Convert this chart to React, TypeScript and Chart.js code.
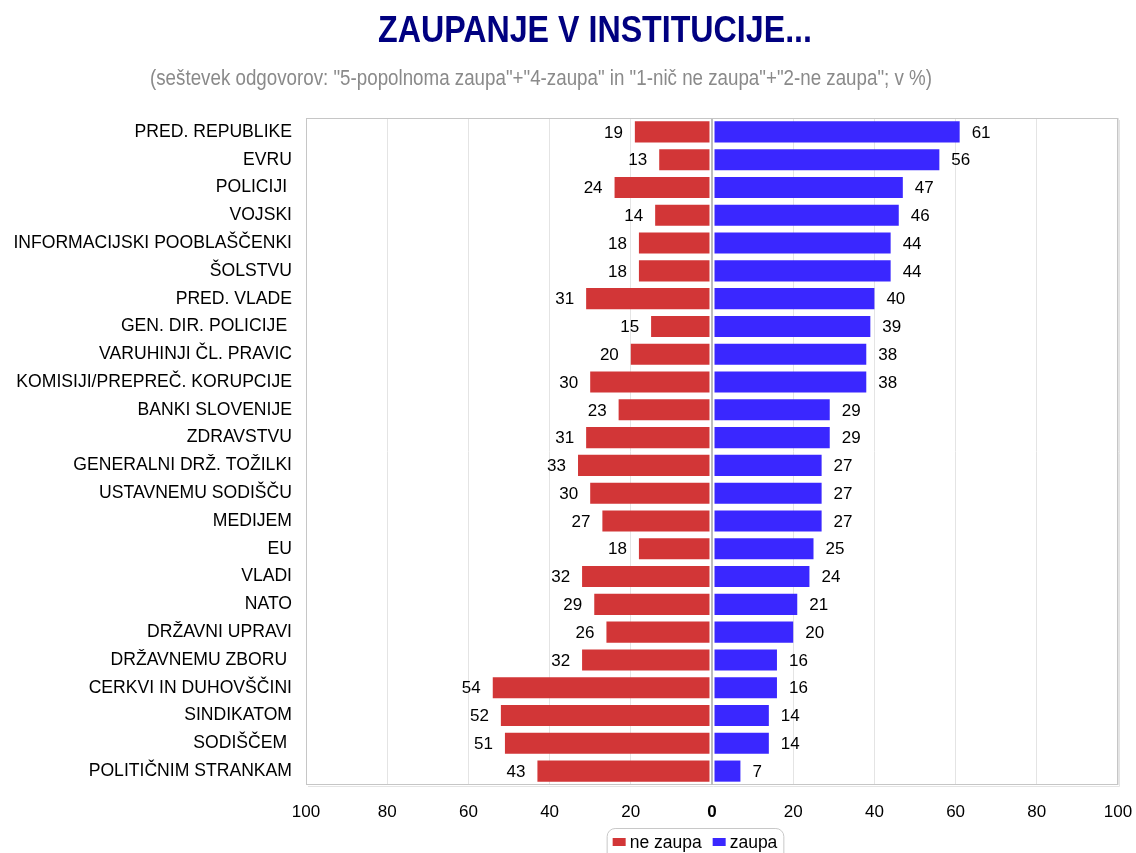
import React, { useEffect, useRef } from 'react';
import { Chart, registerables } from 'chart.js';

Chart.register(...registerables);

const TITLE = 'ZAUPANJE V INSTITUCIJE...';
const SUBTITLE = '(seštevek odgovorov: "5-popolnoma zaupa"+"4-zaupa" in "1-nič ne zaupa"+"2-ne zaupa"; v %)';

const categories = [
  'PRED. REPUBLIKE',
  'EVRU',
  'POLICIJI ',
  'VOJSKI',
  'INFORMACIJSKI POOBLAŠČENKI',
  'ŠOLSTVU',
  'PRED. VLADE',
  'GEN. DIR. POLICIJE ',
  'VARUHINJI ČL. PRAVIC',
  'KOMISIJI/PREPREČ. KORUPCIJE',
  'BANKI SLOVENIJE',
  'ZDRAVSTVU',
  'GENERALNI DRŽ. TOŽILKI',
  'USTAVNEMU SODIŠČU',
  'MEDIJEM',
  'EU',
  'VLADI',
  'NATO',
  'DRŽAVNI UPRAVI',
  'DRŽAVNEMU ZBORU ',
  'CERKVI IN DUHOVŠČINI',
  'SINDIKATOM',
  'SODIŠČEM ',
  'POLITIČNIM STRANKAM',
];

const neZaupa = [19, 13, 24, 14, 18, 18, 31, 15, 20, 30, 23, 31, 33, 30, 27, 18, 32, 29, 26, 32, 54, 52, 51, 43];
const zaupa = [61, 56, 47, 46, 44, 44, 40, 39, 38, 38, 29, 29, 27, 27, 27, 25, 24, 21, 20, 16, 16, 14, 14, 7];

const seriesLabels = ['ne zaupa', 'zaupa'];
const seriesColors = ['#D23637', '#3A27FF'];

const X_MIN = -100;
const X_MAX = 100;
const X_STEP = 20;

const FONT = "'Liberation Sans', Arial, sans-serif";

const decorPlugin = {
  id: 'decor',
  beforeDatasetsDraw(chart: any) {
    const { ctx, chartArea: a } = chart;
    ctx.save();
    ctx.strokeStyle = '#c6c6c6';
    ctx.lineWidth = 1;
    ctx.strokeRect(a.left + 0.5, a.top + 0.5, a.right - a.left - 1, a.bottom - a.top - 1);
    ctx.strokeStyle = '#e4e4e4';
    ctx.beginPath();
    ctx.moveTo(a.right + 1.5, a.top + 2);
    ctx.lineTo(a.right + 1.5, a.bottom + 1.5);
    ctx.lineTo(a.left + 2, a.bottom + 1.5);
    ctx.stroke();
    ctx.restore();
  },
  afterDatasetsDraw(chart: any) {
    const { ctx, chartArea: a, scales } = chart;
    const x0 = scales.x.getPixelForValue(0);
    ctx.save();
    ctx.fillStyle = '#ffffff';
    ctx.fillRect(x0 - 2.5, a.top + 1, 5, a.bottom - a.top - 2);
    ctx.fillStyle = '#bdbdbd';
    ctx.fillRect(x0 - 1, a.top + 1, 2, a.bottom - a.top - 1);

    ctx.font = `17px ${FONT}`;
    ctx.fillStyle = '#000';
    ctx.textBaseline = 'middle';
    chart.data.datasets.forEach((ds: any, i: number) => {
      const meta = chart.getDatasetMeta(i);
      meta.data.forEach((bar: any, j: number) => {
        const v = ds.data[j] as number;
        if (v < 0) {
          ctx.textAlign = 'right';
          ctx.fillText(String(-v), bar.x - 12, bar.y + 1);
        } else {
          ctx.textAlign = 'left';
          ctx.fillText(String(v), bar.x + 12, bar.y + 1);
        }
      });
    });
    ctx.restore();
  },
  afterDraw(chart: any) {
    const { ctx, chartArea: a } = chart;
    ctx.save();
    // Title (condensed)
    ctx.font = `bold 37px ${FONT}`;
    ctx.fillStyle = '#000080';
    ctx.textAlign = 'left';
    ctx.textBaseline = 'alphabetic';
    const tw = ctx.measureText(TITLE).width;
    const tTarget = 434;
    ctx.save();
    ctx.translate(587 - tTarget / 2, 34);
    ctx.scale(tTarget / tw, 1);
    ctx.fillText(TITLE, 0, 0);
    ctx.restore();

    // Subtitle (condensed)
    ctx.font = `22px ${FONT}`;
    ctx.fillStyle = '#8a8a8a';
    const sw = ctx.measureText(SUBTITLE).width;
    const sTarget = 782;
    ctx.save();
    ctx.translate(533 - sTarget / 2, 77);
    ctx.scale(sTarget / sw, 1);
    ctx.fillText(SUBTITLE, 0, 0);
    ctx.restore();

    // Legend
    ctx.font = `17.5px ${FONT}`;
    const boxW = 13;
    const boxH = 8;
    const gapBoxText = 4;
    const gapItems = 11;
    const padX = 6;
    const widths = seriesLabels.map((l) => ctx.measureText(l).width);
    let total = padX * 2;
    widths.forEach((w, i) => {
      total += boxW + gapBoxText + w + (i < widths.length - 1 ? gapItems : 0);
    });
    const cx = (a.left + a.right) / 2 - 17;
    const left = cx - total / 2;
    const top = a.bottom + 43;
    ctx.strokeStyle = '#c8c8c8';
    ctx.lineWidth = 1;
    ctx.beginPath();
    (ctx as any).roundRect(left + 0.5, top + 0.5, total, 40, 8);
    ctx.stroke();
    let x = left + padX;
    seriesLabels.forEach((l, i) => {
      ctx.fillStyle = seriesColors[i];
      ctx.fillRect(x, top + 10, boxW, boxH);
      x += boxW + gapBoxText;
      ctx.fillStyle = '#000';
      ctx.textBaseline = 'alphabetic';
      ctx.fillText(l, x, top + 20);
      x += widths[i] + gapItems;
    });
    ctx.restore();
  },
};

export default function App() {
  const ref = useRef<HTMLCanvasElement | null>(null);

  useEffect(() => {
    if (!ref.current) return;
    const chart = new Chart(ref.current, {
      type: 'bar',
      data: {
        labels: categories,
        datasets: [
          {
            label: seriesLabels[0],
            data: neZaupa.map((v) => -v),
            backgroundColor: seriesColors[0],
            borderWidth: 0,
            barPercentage: 0.76,
            categoryPercentage: 1,
          },
          {
            label: seriesLabels[1],
            data: zaupa,
            backgroundColor: seriesColors[1],
            borderWidth: 0,
            barPercentage: 0.76,
            categoryPercentage: 1,
          },
        ],
      },
      options: {
        indexAxis: 'y',
        animation: false,
        responsive: false,
        layout: { padding: { top: 110, right: 18, left: 0, bottom: 18 } },
        plugins: {
          legend: { display: false },
          title: { display: false },
          tooltip: { enabled: false },
        },
        scales: {
          x: {
            stacked: true,
            min: X_MIN,
            max: X_MAX,
            ticks: {
              stepSize: X_STEP,
              padding: 17,
              color: '#000',
              font: (c: any) => ({
                family: FONT,
                size: 17,
                weight: c.tick && c.tick.value === 0 ? 'bold' : 'normal',
              }),
              callback: (v: any) => String(Math.abs(Number(v))),
            },
            grid: { color: '#e4e4e4', drawTicks: false },
            border: { display: false },
            afterFit: (s: any) => {
              s.height = 50;
              s.paddingLeft = 0;
              s.paddingRight = 0;
            },
          },
          y: {
            stacked: true,
            ticks: {
              padding: 14,
              color: '#000',
              autoSkip: false,
              font: { family: FONT, size: 17.6 },
            },
            grid: { display: false, drawTicks: false },
            border: { display: false },
            afterFit: (s: any) => {
              s.width = 298;
            },
          },
        },
      },
      plugins: [decorPlugin],
    });
    return () => chart.destroy();
  }, []);

  return (
    <canvas
      ref={ref}
      width={1128}
      height={845}
      style={{ display: 'block', position: 'absolute', left: 8, top: 8 }}
    />
  );
}
